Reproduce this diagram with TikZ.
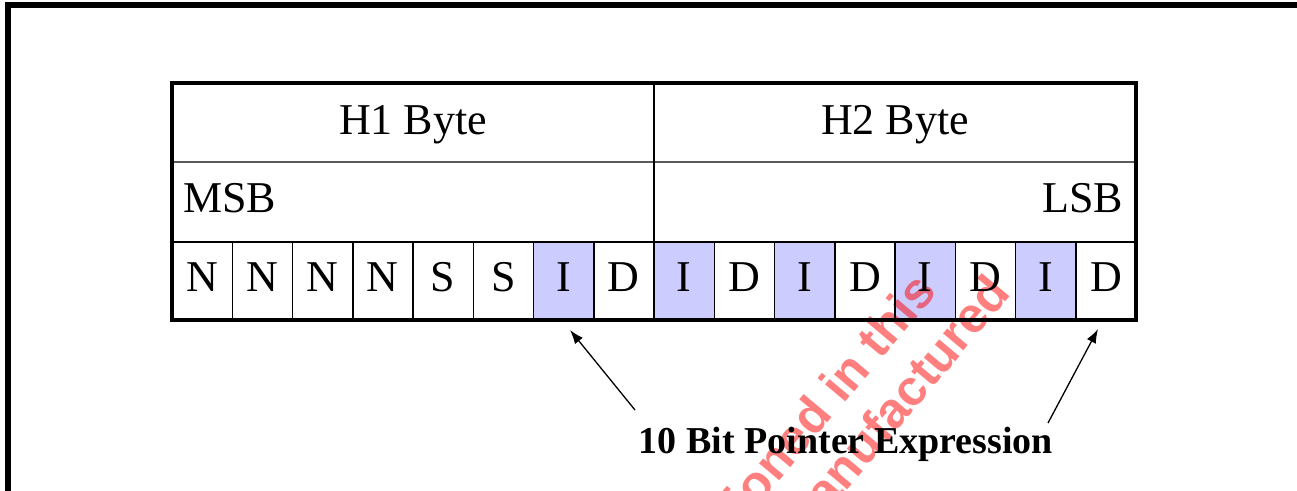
\documentclass[tikz,border=0pt]{standalone}
\usepackage{fontspec}
\setmainfont{Liberation Serif}
\newfontfamily\wmfont{Liberation Sans}
\usetikzlibrary{arrows.meta, math}
\definecolor{bitblue}{RGB}{204,204,255}
\definecolor{wmred}{RGB}{255,0,0}
\definecolor{rulegray}{RGB}{90,90,90}

\begin{document}
\begin{tikzpicture}[x=1pt,y=-1pt,
  bittext/.style={font=\fontsize{44}{50}\selectfont, inner sep=0pt, anchor=base},
  ptrlabel/.style={font=\bfseries\fontsize{38}{44}\selectfont, inner sep=0pt, anchor=base},
  wmark/.style={font=\wmfont\bfseries\fontsize{50}{56}\selectfont, text=wmred, text opacity=0.5, inner sep=0pt, rotate=50, anchor=base east},
  ptrarrow/.style={line width=1.3pt, -{Latex[length=14pt,width=10pt]}}]

\tikzmath{
\xL = 172;
\xR = 1136;
\xM = 654;
\yT = 83;
\yA = 162;
\yB = 242;
\yBot = 320;
\cw = (\xR-\xL)/16;
}

\useasboundingbox (0,0) rectangle (1297,490);
\begin{scope}
\clip (0,0) rectangle (1297,490);

%outer frame
\draw[line width=6pt] (8,520) -- (8,5) -- (1320,5);

%shaded I bits
\foreach \i in {7,9,11,13,15}{
 \tikzmath{
  \x = \xL+(\i-1)*\cw;
  }
  \fill[bitblue] (\x,\yB) rectangle (\x+\cw,\yBot);
}

%watermark
\node[wmark] (wmA) at (938,292) {mentioned in this};
\node[wmark] (wmB) at (1012,294) {manufactured};

%table rules
\draw[rulegray, line width=2pt] (\xL,\yA) -- (\xR,\yA);
\draw[line width=2pt] (\xL,\yB) -- (\xR,\yB);
\draw[line width=2.2pt] (\xM,\yT) -- (\xM,\yB);
\foreach \i in {1,...,15}{
 \tikzmath{
  \x = \xL+\i*\cw;
  }
  \draw[line width=1.5pt] (\x,\yB) -- (\x,\yBot);
}
\draw[line width=4pt] (\xL,\yT) rectangle (\xR,\yBot);

%byte headers
\node[bittext] (hone) at ({(\xL+\xM)/2},134) {H1 Byte};
\node[bittext] (htwo) at ({(\xM+\xR)/2},134) {H2 Byte};
\node[bittext, anchor=base west] (msb) at (183,212) {MSB};
\node[bittext, anchor=base east] (lsb) at (1123,212) {LSB};

%bits
\foreach \b [count=\i] in {N,N,N,N,S,S,I,D,I,D,I,D,I,D,I,D}{
 \tikzmath{
  \x = \xL+(\i-0.5)*\cw;
  }
  \node[bittext] (bit\i) at (\x,291) {\b};
}

%pointer
\node[ptrlabel] (ptrtext) at (846,453) {10 Bit Pointer Expression};
\coordinate (ptrL) at (635,410);
\coordinate (tipL) at (570,330);
\coordinate (ptrR) at (1048,423);
\coordinate (tipR) at (1098,329);
\draw[ptrarrow] (ptrL) -- (tipL);
\draw[ptrarrow] (ptrR) -- (tipR);

\end{scope}
\end{tikzpicture}
\end{document}
